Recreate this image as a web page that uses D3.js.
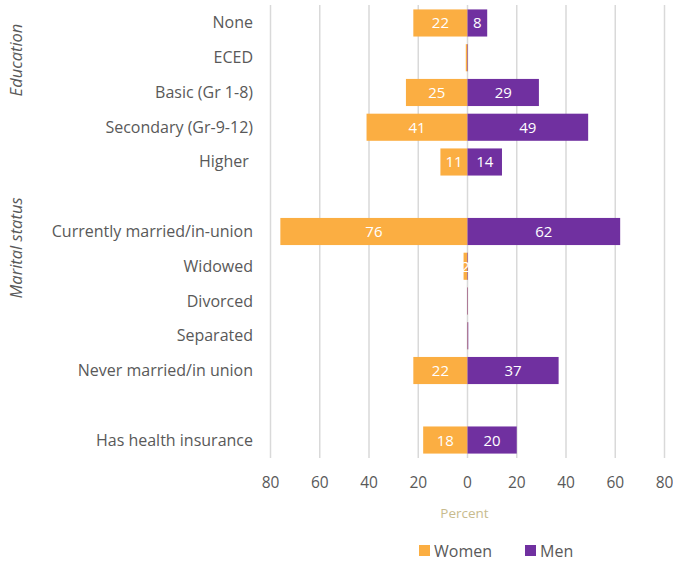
<!DOCTYPE html>
<html><head><meta charset="utf-8">
<script src="https://cdn.jsdelivr.net/npm/d3@7"></script>
<style>body{margin:0;background:#fff}svg{display:block}text{font-family:"Open Sans",sans-serif}</style>
</head><body><svg id="c" width="673" height="563"></svg>
<script>
const categories = ["None","ECED","Basic (Gr 1-8)","Secondary (Gr-9-12)","Higher ","","Currently married/in-union","Widowed","Divorced","Separated","Never married/in union","","Has health insurance"];
const women = [22, 0.7, 25, 41, 11, null, 76, 1.6, 0.2, 0.2, 22, null, 18];
const men = [8, 0.2, 29, 49, 14, null, 62, 0.2, 0.2, 0.3, 37, null, 20];
const ticks = [-80,-60,-40,-20,0,20,40,60,80];
const groups = ["Education","Marital status"];
const seriesNames = ["Women","Men"];
const colors = ["#FBAE42","#7030A0"];

const svg = d3.select("#c");
const x = d3.scaleLinear().domain([-80,80]).range([270.5,664.5]);
const y = d3.scaleBand().domain(d3.range(categories.length)).range([5.6,457.4]).paddingInner(0.22).paddingOuter(0.11);

// gridlines
svg.append("g").selectAll("line").data(ticks).join("line")
  .attr("x1",d=>x(d)).attr("x2",d=>x(d)).attr("y1",5).attr("y2",458)
  .attr("stroke","#d9d9d9").attr("stroke-width",1.5);

// tick labels
svg.append("g").selectAll("text").data(ticks).join("text")
  .attr("x",d=>x(d)).attr("y",488).attr("text-anchor","middle")
  .attr("font-size",15.5).attr("fill","#595959").text(d=>Math.abs(d));

const fmt = v => d3.format(".0f")(v);
const rows = d3.range(categories.length);
svg.append("g").selectAll("rect").data(rows.filter(i=>women[i]!=null)).join("rect")
  .attr("x",i=>x(-women[i])).attr("width",i=>x(0)-x(-women[i]))
  .attr("y",i=>y(i)).attr("height",y.bandwidth()).attr("fill",colors[0]);
svg.append("g").selectAll("rect").data(rows.filter(i=>men[i]!=null)).join("rect")
  .attr("x",x(0)).attr("width",i=>x(men[i])-x(0))
  .attr("y",i=>y(i)).attr("height",y.bandwidth()).attr("fill",colors[1]);

// data labels (white; labels that round to 0 are invisible in the original and omitted)
svg.append("g").selectAll("text").data(rows.filter(i=>women[i]!=null && women[i]>=1)).join("text")
  .attr("x",i=>(x(-women[i])+x(0))/2).attr("y",i=>y(i)+y.bandwidth()/2+5.5)
  .attr("text-anchor","middle").attr("font-size",15).attr("fill","#fff").text(i=>fmt(women[i]));
svg.append("g").selectAll("text").data(rows.filter(i=>men[i]!=null && men[i]>=1)).join("text")
  .attr("x",i=>(x(men[i])+x(0))/2).attr("y",i=>y(i)+y.bandwidth()/2+5.5)
  .attr("text-anchor","middle").attr("font-size",15).attr("fill","#fff").text(i=>fmt(men[i]));

// category labels
svg.append("g").selectAll("text").data(rows.filter(i=>categories[i]!=="")).join("text")
  .attr("x",253).attr("y",i=>y(i)+y.bandwidth()/2+5.5).attr("text-anchor","end")
  .attr("font-size",16).attr("fill","#595959").style("white-space","pre").text(i=>categories[i]);

// group labels
const gy = [60, 248];
groups.forEach((g,k)=>{
  svg.append("text").attr("transform",`translate(22,${gy[k]}) rotate(-90)`)
    .attr("text-anchor","middle").attr("font-size",16.5).attr("font-style","italic")
    .attr("fill","#595959").text(g);
});

// axis title
svg.append("text").attr("x",x(0)-3).attr("y",518).attr("text-anchor","middle")
  .attr("font-size",13.5).attr("fill","#C8BB8E").text("Percent");

// legend
const lg = svg.append("g");
const lx = [419,525];
seriesNames.forEach((s,k)=>{
  lg.append("rect").attr("x",lx[k]).attr("y",545).attr("width",11).attr("height",11).attr("fill",colors[k]);
  lg.append("text").attr("x",lx[k]+15).attr("y",557).attr("font-size",16).attr("fill","#595959").text(s);
});
</script></body></html>
